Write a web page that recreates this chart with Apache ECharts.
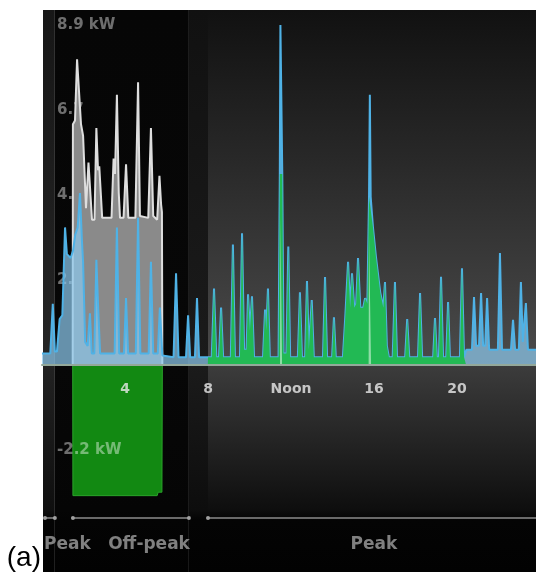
<!DOCTYPE html>
<html>
<head>
<meta charset="utf-8">
<script src="https://cdn.jsdelivr.net/npm/echarts@6/dist/echarts.min.js"></script>
<style>
  html, body { margin: 0; padding: 0; background: #ffffff; }
  #chart { width: 536px; height: 572px; }
</style>
</head>
<body>
<div id="chart"></div>
<script>
// Hour-of-day axis
const hourTicks = [4, 8, 12, 16, 20];
const hourLabels = ['4', '8', 'Noon', '16', '20'];

// Power axis (kW)
const powerTicks = [-2.225, 2.225, 4.45, 6.675, 8.9];
const powerLabels = ['-2.2 kW', '2.2', '4.5', '6.7', '8.9 kW'];

// Tariff periods (hours)
const periodNames = ['Peak', 'Off-peak', 'Peak'];
const periodStart = [0, 1.49, 8];
const periodEnd = [0.62, 7.08, 24];

// Home consumption [hour, kW]
const home = [
  [0, 0.3], [0.4, 0.3], [0.52, 1.6], [0.62, 0.35], [0.72, 0.35], [0.85, 1.2], [0.98, 1.3],
  [1.11, 3.6], [1.2, 2.9], [1.38, 2.8], [1.5, 3.0], [1.6, 3.4], [1.72, 3.6], [1.83, 4.5],
  [1.92, 3.3], [1.98, 2.7], [2.08, 0.6], [2.2, 0.5], [2.31, 1.35], [2.4, 0.3], [2.52, 0.3],
  [2.62, 2.75], [2.7, 1.6], [2.8, 0.3], [3.5, 0.3], [3.61, 3.6], [3.72, 0.3], [3.95, 0.3],
  [4.05, 1.75], [4.15, 0.3], [4.52, 0.3], [4.63, 3.85], [4.74, 0.3], [5.14, 0.3], [5.25, 2.7],
  [5.36, 0.3], [5.58, 0.3], [5.68, 1.5], [5.8, 0.25], [6.34, 0.2], [6.46, 2.4], [6.58, 0.2],
  [6.94, 0.2], [7.04, 1.3], [7.14, 0.2], [7.37, 0.2], [7.47, 1.75], [7.57, 0.2],
  [8.0, 0.2], [8.18, 0.2], [8.29, 2.0], [8.4, 0.2], [8.53, 0.2], [8.63, 1.5], [8.73, 0.2],
  [9.1, 0.2], [9.2, 3.15], [9.3, 0.2], [9.54, 0.2], [9.64, 3.45], [9.74, 0.4], [9.86, 0.4],
  [9.93, 1.85], [10.02, 0.9], [10.12, 1.8], [10.22, 0.2], [10.65, 0.2], [10.75, 1.45],
  [10.81, 0.9], [10.89, 2.0], [10.98, 0.2], [11.4, 0.2], [11.46, 5.0], [11.49, 8.9],
  [11.55, 8.9], [11.58, 5.0], [11.64, 0.3], [11.78, 0.3], [11.87, 3.1], [11.96, 0.2],
  [12.33, 0.2], [12.43, 1.9], [12.53, 0.2], [12.68, 0.2], [12.77, 2.2], [12.86, 0.4],
  [12.93, 0.4], [13.0, 1.7], [13.1, 0.2], [13.54, 0.2], [13.64, 2.3], [13.74, 0.2],
  [13.98, 0.2], [14.07, 1.25], [14.16, 0.2], [14.5, 0.2], [14.62, 1.3], [14.75, 2.7],
  [14.85, 1.5], [14.94, 2.4], [15.05, 1.5], [15.14, 1.6], [15.23, 2.8], [15.34, 1.5],
  [15.48, 1.5], [15.57, 1.75], [15.68, 1.6], [15.76, 4.4], [15.8, 7.07], [15.84, 4.4],
  [15.95, 3.6], [16.1, 2.8], [16.3, 1.9], [16.45, 1.5], [16.53, 2.17], [16.62, 0.5],
  [16.72, 0.2], [16.9, 0.2], [17.01, 2.17], [17.11, 0.2], [17.5, 0.2], [17.6, 1.2],
  [17.7, 0.2], [18.12, 0.2], [18.22, 1.88], [18.32, 0.2], [18.85, 0.2], [18.94, 1.23],
  [19.03, 0.2], [19.13, 0.2], [19.23, 2.31], [19.33, 0.2], [19.48, 0.2], [19.57, 1.65],
  [19.66, 0.2], [20.14, 0.2], [20.24, 2.53], [20.34, 0.2], [20.45, 0.4], [20.72, 0.4],
  [20.82, 1.78], [20.92, 0.5], [21.06, 0.5], [21.16, 1.88], [21.26, 0.5], [21.36, 0.5],
  [21.45, 1.75], [21.55, 0.4], [21.97, 0.4], [22.07, 2.93], [22.17, 0.4], [22.6, 0.4],
  [22.7, 1.18], [22.8, 0.4], [22.98, 0.4], [23.08, 2.17], [23.17, 0.6], [23.24, 0.6],
  [23.32, 1.62], [23.42, 0.4], [24, 0.4]
];

// Powerwall discharging to the home [hour, kW]
const batteryOut = [
  [7.99, 0], [8.0, 0.2], [8.18, 0.2], [8.29, 2.0], [8.4, 0.2], [8.53, 0.2], [8.63, 1.5],
  [8.73, 0.2], [9.1, 0.2], [9.2, 3.15], [9.3, 0.2], [9.54, 0.2], [9.64, 3.45], [9.74, 0.4],
  [9.86, 0.4], [9.93, 1.85], [10.02, 0.9], [10.12, 1.8], [10.22, 0.2], [10.65, 0.2],
  [10.75, 1.45], [10.81, 0.9], [10.89, 2.0], [10.98, 0.2], [11.4, 0.2], [11.46, 5.0],
  [11.58, 5.0], [11.64, 0.3], [11.78, 0.3], [11.87, 3.1], [11.96, 0.2], [12.33, 0.2],
  [12.43, 1.9], [12.53, 0.2], [12.68, 0.2], [12.77, 2.2], [12.86, 0.4], [12.93, 0.4],
  [13.0, 1.7], [13.1, 0.2], [13.54, 0.2], [13.64, 2.3], [13.74, 0.2], [13.98, 0.2],
  [14.07, 1.25], [14.16, 0.2], [14.5, 0.2], [14.62, 1.3], [14.75, 2.7], [14.85, 1.5],
  [14.94, 2.4], [15.05, 1.5], [15.14, 1.6], [15.23, 2.8], [15.34, 1.5], [15.48, 1.5],
  [15.57, 1.75], [15.68, 1.6], [15.76, 4.4], [15.84, 4.4], [15.95, 3.6], [16.1, 2.8],
  [16.3, 1.9], [16.45, 1.5], [16.53, 2.17], [16.62, 0.5], [16.72, 0.2], [16.9, 0.2],
  [17.01, 2.17], [17.11, 0.2], [17.5, 0.2], [17.6, 1.2], [17.7, 0.2], [18.12, 0.2],
  [18.22, 1.88], [18.32, 0.2], [18.85, 0.2], [18.94, 1.23], [19.03, 0.2], [19.13, 0.2],
  [19.23, 2.31], [19.33, 0.2], [19.48, 0.2], [19.57, 1.65], [19.66, 0.2], [20.14, 0.2],
  [20.24, 2.53], [20.34, 0.2], [20.43, 0.2], [20.44, 0]
];

// Powerwall charging from the grid [hour, kW]
const batteryIn = [
  [1.48, 0], [1.49, -3.42], [5.55, -3.42], [5.6, -3.33], [5.78, -3.33], [5.8, 0]
];

// Grid import overnight [hour, kW]
const gridNight = [
  [1.48, 0], [1.49, 6.3], [1.59, 6.4], [1.69, 8.0], [1.78, 8.0], [1.88, 6.3], [1.98, 6.0],
  [2.12, 4.1], [2.24, 5.3], [2.31, 5.3], [2.41, 3.8], [2.53, 3.8], [2.62, 6.2], [2.7, 5.1],
  [2.76, 5.2], [2.9, 3.85], [3.35, 3.85], [3.45, 5.4], [3.52, 5.0], [3.61, 7.07], [3.7, 4.5],
  [3.76, 3.85], [3.93, 3.85], [4.05, 5.25], [4.16, 3.85], [4.5, 3.85], [4.63, 7.4],
  [4.72, 3.9], [5.12, 3.85], [5.25, 6.2], [5.36, 3.9], [5.55, 3.8], [5.66, 4.95],
  [5.74, 4.2], [5.78, 4.0], [5.8, 0]
];

// Grid import while home demand exceeds the Powerwall output [hour, kW]
const gridPeak = [
  [11.47, 0], [11.49, 3.9], [11.55, 3.9], [11.57, 0],
  [15.74, 0], [15.76, 3.4], [15.84, 3.4], [15.86, 0]
];

(function () {
  const FONT = 'DejaVu Sans';
  const Y_MIN = -4.45, Y_MAX = 9.29;
  const GRID = { left: 42, top: 10, width: 498, height: 525 };
  // lift the hour axis from the grid bottom up to the 0 kW level
  const zeroOffset = -GRID.height * (0 - Y_MIN) / (Y_MAX - Y_MIN);

  function labelFor(ticks, labels, v) {
    for (let i = 0; i < ticks.length; i++) {
      if (Math.abs(ticks[i] - v) < 1e-6) return labels[i];
    }
    return '';
  }

  const chart = echarts.init(document.getElementById('chart'), null, { renderer: 'canvas' });

  const option = {
    backgroundColor: '#ffffff',
    animation: false,
    grid: Object.assign({ containLabel: false, outerBoundsMode: 'none' }, GRID),
    xAxis: {
      type: 'value', min: 0, max: 24, interval: 4, z: 10,
      position: 'bottom', offset: zeroOffset,
      axisLine: { onZero: false, lineStyle: { color: '#93a89a', width: 2 } },
      axisTick: { show: false },
      splitLine: { show: false },
      axisLabel: {
        margin: 17, color: 'rgba(235,235,235,0.8)', fontSize: 14, fontWeight: 'bold', fontFamily: FONT,
        hideOverlap: false,
        formatter: v => labelFor(hourTicks, hourLabels, v)
      }
    },
    yAxis: {
      type: 'value', min: Y_MIN, max: Y_MAX, interval: 2.225, z: 2,
      axisLine: { show: false },
      axisTick: { show: false },
      splitLine: { show: false },
      axisLabel: {
        inside: true, margin: 15, color: 'rgba(255,255,255,0.42)', fontSize: 15, fontWeight: 'bold', fontFamily: FONT,
        showMaxLabel: false,
        formatter: v => labelFor(powerTicks, powerLabels, v)
      }
    },
    series: [
      {
        name: 'Powerwall charging', type: 'line', data: batteryIn, z: 1, showSymbol: false,
        lineStyle: { color: '#2aa32a', width: 1 },
        areaStyle: { color: '#128912', opacity: 1 }
      },
      {
        name: 'Grid', type: 'line', data: gridNight, z: 3, showSymbol: false,
        lineStyle: { color: '#dedede', width: 2 },
        areaStyle: { color: '#8a8a8a', opacity: 1 }
      },
      {
        name: 'Home', type: 'line', data: home, z: 4, showSymbol: false,
        lineStyle: { color: '#4fb2e6', width: 2 },
        areaStyle: { color: 'rgba(140,200,235,0.72)', opacity: 1 }
      },
      {
        name: 'Powerwall', type: 'line', data: batteryOut, z: 5, showSymbol: false,
        lineStyle: { width: 0 },
        areaStyle: { color: '#22b954', opacity: 1 }
      },
      {
        name: 'Grid (peak)', type: 'line', data: gridPeak, z: 6, showSymbol: false,
        lineStyle: { width: 0 },
        areaStyle: { color: 'rgba(215,245,222,0.6)', opacity: 1 }
      }
    ]
  };

  chart.setOption(option);

  // Panel shading, tariff bar and captions placed from the axis scales
  const px = h => chart.convertToPixel({ xAxisIndex: 0 }, h);
  const py = v => chart.convertToPixel({ yAxisIndex: 0 }, v);
  const W = 536, H = 572;
  const panelTop = py(Y_MAX), zeroY = py(0), barY = zeroY + 153, panelLeft = px(0) + 1;

  function vgrad(stops) {
    return { type: 'linear', x: 0, y: 0, x2: 0, y2: 1,
      colorStops: stops.map(s => ({ offset: s[0], color: s[1] })) };
  }
  function zone(x0, x1, upper, lower) {
    return [
      { type: 'rect', z: -10, silent: true, shape: { x: x0, y: panelTop, width: x1 - x0, height: zeroY - panelTop }, style: { fill: upper } },
      { type: 'rect', z: -10, silent: true, shape: { x: x0, y: zeroY, width: x1 - x0, height: H - zeroY }, style: { fill: lower } }
    ];
  }
  const lowerStops = (a, b) => vgrad([[0, a], [(barY - 8 - zeroY) / (H - zeroY), b],
    [(barY + 2 - zeroY) / (H - zeroY), '#040404'], [1, '#020202']]);

  const g = [];
  // previous peak tail
  g.push(...zone(panelLeft, px(periodEnd[0]),
    vgrad([[0, '#171717'], [1, '#252525']]), lowerStops('#222222', '#0f0f0f')));
  // off-peak
  g.push(...zone(px(periodEnd[0]), px(periodEnd[1]),
    vgrad([[0, '#060606'], [1, '#070707']]), lowerStops('#070707', '#050505')));
  // hand-over to peak
  g.push(...zone(px(periodEnd[1]), px(periodStart[2]),
    vgrad([[0, '#111111'], [1, '#1b1b1b']]), lowerStops('#1b1b1b', '#0d0d0d')));
  // peak
  g.push(...zone(px(periodStart[2]), W,
    vgrad([[0, '#111111'], [0.45, '#2a2a2a'], [1, '#4b4b4b']]), lowerStops('#3c3c3c', '#0e0e0e')));

  // tariff bar segments with end dots
  for (let i = 0; i < periodNames.length; i++) {
    const x0 = Math.max(px(periodStart[i]), panelLeft + 2);
    const x1 = Math.min(px(periodEnd[i]), W);
    g.push({ type: 'line', z: 20, silent: true, shape: { x1: x0, y1: barY, x2: x1, y2: barY },
      style: { stroke: '#6a6a6a', lineWidth: 2 } });
    g.push({ type: 'circle', z: 21, silent: true, shape: { cx: x0, cy: barY, r: 2 }, style: { fill: '#a0a0a0' } });
    if (x1 < W) g.push({ type: 'circle', z: 21, silent: true, shape: { cx: x1, cy: barY, r: 2 }, style: { fill: '#a0a0a0' } });
  }

  // period captions
  const capY = barY + 27;
  const capStyle = { fill: '#808080', font: 'bold 17px "' + FONT + '"', textVerticalAlign: 'middle' };
  g.push({ type: 'text', z: 20, silent: true, style: Object.assign({ text: periodNames[0], x: panelLeft + 1, y: capY, textAlign: 'left' }, capStyle) });
  g.push({ type: 'text', z: 20, silent: true, style: Object.assign({ text: periodNames[1], x: px(periodEnd[1]) + 1, y: capY, textAlign: 'right' }, capStyle) });
  g.push({ type: 'text', z: 20, silent: true, style: Object.assign({ text: periodNames[2], x: (px(periodStart[2]) + px(periodEnd[2])) / 2, y: capY, textAlign: 'center' }, capStyle) });

  // panel tag
  g.push({ type: 'text', z: 20, silent: true, style: { text: '(a)', x: panelLeft - 2, y: 558, textAlign: 'right', textVerticalAlign: 'middle', fill: '#000000', font: '28px "Liberation Sans", Arial, sans-serif' } });

  chart.setOption({ graphic: g });
})();
</script>
</body>
</html>
